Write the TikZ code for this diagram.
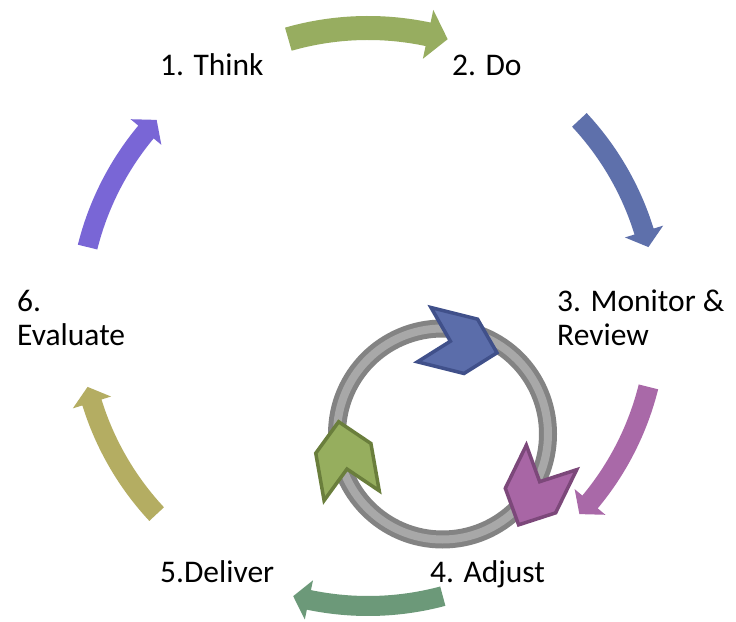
\documentclass[tikz,border=0pt]{standalone}
\usepackage{fontspec}
\setmainfont{Carlito}
\definecolor{cThink}{RGB}{151,173,96}
\definecolor{cDo}{RGB}{94,112,171}
\definecolor{cMon}{RGB}{169,105,168}
\definecolor{cAdj}{RGB}{108,153,121}
\definecolor{cDel}{RGB}{180,173,98}
\definecolor{cEva}{RGB}{121,102,214}
\definecolor{ringDark}{RGB}{131,131,131}
\definecolor{ringLight}{RGB}{168,168,168}
\definecolor{chBlue}{RGB}{91,109,170}
\definecolor{chBlueB}{RGB}{64,80,138}
\definecolor{chPurp}{RGB}{168,102,165}
\definecolor{chPurpB}{RGB}{124,72,122}
\definecolor{chGreen}{RGB}{150,174,94}
\definecolor{chGreenB}{RGB}{106,126,60}

% curved block arrow running clockwise on a circle about the origin
% #1 start angle, #2 tip angle, #3 radius, #4 shaft width,
% #5 head width, #6 head length (degrees), #7 colour
\newcommand{\cyclearrow}[7]{%
  \fill[#7] ({#1}:{#3+#4/2})
    arc[start angle=#1, end angle={#2+#6}, radius={#3+#4/2}]
    -- ({#2+#6}:{#3+#5/2}) -- ({#2}:{#3}) -- ({#2+#6}:{#3-#5/2})
    -- ({#2+#6}:{#3-#4/2})
    arc[start angle={#2+#6}, end angle=#1, radius={#3-#4/2}] -- cycle;}

% notched chevron centred at #1, pointing along angle #2
\newcommand{\chevron}[4]{%
  \draw[fill=#3, draw=#4, line width=3.5pt, line join=miter]
    [shift={#1}, rotate=#2]
    (-24,28) -- (24,28) -- (51,0) -- (24,-28) -- (-24,-28) -- (3,0) -- cycle;}

\tikzset{
  label/.style={anchor=base west, inner sep=0pt,
    font=\fontsize{31.5}{34}\selectfont, text=black}
}

\begin{document}
\begin{tikzpicture}[x=1pt,y=1pt]
\useasboundingbox (0,0) rectangle (736,621);
\fill[white] (0,0) rectangle (736,621);

% outer cycle of block arrows
\begin{scope}[shift={(368,304)}]
  \cyclearrow{106}{74}{289}{24}{50}{4}{cThink}
  \cyclearrow{43}{14}{289}{20}{40}{3.2}{cDo}
  \cyclearrow{-14}{-43}{289}{20}{40}{3.2}{cMon}
  \cyclearrow{-75}{-105}{289}{20}{40}{3.2}{cAdj}
  \cyclearrow{-137}{-166}{289}{20}{40}{3.2}{cDel}
  \cyclearrow{166}{137}{289}{20}{40}{3.2}{cEva}
\end{scope}

% inner ring with chevrons
\draw[ringDark, line width=18pt] (442.5,187) circle[radius=105.5];
\draw[ringLight, line width=8pt] (442.5,187) circle[radius=105.5];
\chevron{(447.5,280.5)}{-14}{chBlue}{chBlueB}
\chevron{(541,142)}{244}{chPurp}{chPurpB}
\chevron{(347.5,149)}{100}{chGreen}{chGreenB}

% step labels
\node[label] (t1) at (160,545) {1. Think};
\node[label] (t2) at (452,545) {2. Do};
\node[label] (t3a) at (557,309) {3. Monitor \&};
\node[label] (t3b) at (557,275) {Review};
\node[label] (t4) at (430,38) {4. Adjust};
\node[label] (t5) at (160,38) {5.Deliver};
\node[label] (t6a) at (17,309) {6.};
\node[label] (t6b) at (17,275) {Evaluate};
\end{tikzpicture}
\end{document}
